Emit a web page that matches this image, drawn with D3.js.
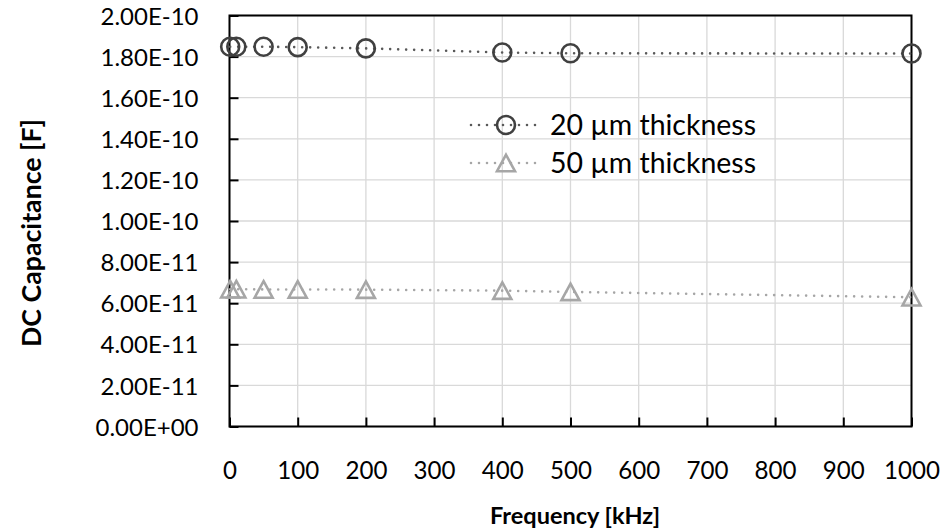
<!DOCTYPE html>
<html>
<head>
<meta charset="utf-8">
<script src="https://cdn.jsdelivr.net/npm/d3@7"></script>
<style>
  html, body { margin: 0; padding: 0; background: #fff; }
  svg { display: block; font-family: "Lato", "Open Sans", sans-serif; }
</style>
</head>
<body>
<svg id="chart" width="947" height="530"></svg>
<script>
// Frequency sweep (kHz) and measured DC capacitance (F) for two film thicknesses
const frequencies = [1, 10, 50, 100, 200, 400, 500, 1000];
const cap20um = [1.848e-10, 1.848e-10, 1.848e-10, 1.846e-10, 1.840e-10, 1.820e-10, 1.816e-10, 1.815e-10];
const cap50um = [6.68e-11, 6.68e-11, 6.67e-11, 6.67e-11, 6.66e-11, 6.61e-11, 6.55e-11, 6.29e-11];
const seriesNames = ["20 µm thickness", "50 µm thickness"];
const xTicks = [0, 100, 200, 300, 400, 500, 600, 700, 800, 900, 1000];
const yTicks = [0, 2e-11, 4e-11, 6e-11, 8e-11, 1e-10, 1.2e-10, 1.4e-10, 1.6e-10, 1.8e-10, 2e-10];
const xTitle = "Frequency [kHz]";
const yTitle = "DC Capacitance [F]";

const svg = d3.select("#chart");
const W = 947, H = 530;
const margin = { left: 229.5, right: W - 911.5, top: 15.5, bottom: H - 426.5 };

const x = d3.scaleLinear().domain([0, 1000]).range([margin.left, W - margin.right]);
const y = d3.scaleLinear().domain([0, 2e-10]).range([H - margin.bottom, margin.top]);

// Excel-style scientific notation, e.g. 1.80E-10
function sci(v) {
  const s = v.toExponential(2).toUpperCase();
  const [m, e] = s.split("E");
  return m + "E" + e[0] + e.slice(1).padStart(2, "0");
}

// scale a text selection's font so that a reference string spans the given width
function fitFont(sel, sample, width) {
  const probe = svg.append("text").style("font-size", "100px").text(sample);
  sel.each(function () {
    probe.style("font-weight", d3.select(this).style("font-weight"));
  });
  const len = probe.node().getComputedTextLength();
  probe.remove();
  sel.style("font-size", (100 * width / len).toFixed(2) + "px");
}

// gridlines
const grid = svg.append("g").attr("stroke", "#d9d9d9").attr("stroke-width", 1.3);
grid.selectAll("line.v").data(xTicks).join("line")
  .attr("x1", d => x(d)).attr("x2", d => x(d))
  .attr("y1", y(0)).attr("y2", y(2e-10));
grid.selectAll("line.h").data(yTicks).join("line")
  .attr("x1", x(0)).attr("x2", x(1000))
  .attr("y1", d => y(d)).attr("y2", d => y(d));

// axes with inward ticks
const xAxis = svg.append("g").attr("transform", `translate(0,${y(0)})`)
  .call(d3.axisBottom(x).tickValues(xTicks).tickSizeInner(-9).tickSizeOuter(0).tickFormat(d3.format("d")));
const yAxis = svg.append("g").attr("transform", `translate(${x(0)},0)`)
  .call(d3.axisLeft(y).tickValues(yTicks).tickSizeInner(-9).tickSizeOuter(0).tickPadding(31).tickFormat(sci));
[xAxis, yAxis].forEach(a => {
  a.select(".domain").remove();
  a.selectAll(".tick line").attr("stroke", "#000").attr("stroke-width", 2);
  a.selectAll(".tick text").attr("fill", "#000").style("font-family", "Lato, 'Open Sans', sans-serif");
});
xAxis.selectAll(".tick text").attr("y", 44).attr("dy", "0.36em");
yAxis.selectAll(".tick text").attr("dy", "0.36em");
fitFont(yAxis.selectAll(".tick text"), "1.80E-10", 98);
fitFont(xAxis.selectAll(".tick text"), "800", 42);

// plot frame
svg.append("rect")
  .attr("x", x(0)).attr("y", y(2e-10))
  .attr("width", x(1000) - x(0)).attr("height", y(0) - y(2e-10))
  .attr("fill", "none").attr("stroke", "#000").attr("stroke-width", 2);

// series
const series = [
  { name: seriesNames[0], values: cap20um, line: "#595959", mark: "#404040", shape: "circle" },
  { name: seriesNames[1], values: cap50um, line: "#a6a6a6", mark: "#a6a6a6", shape: "triangle" }
];

const line = d3.line().x(d => x(d[0])).y(d => y(d[1]));

function drawMarker(g, shape, color, cx, cy) {
  if (shape === "circle") {
    g.append("circle").attr("cx", cx).attr("cy", cy).attr("r", 9)
      .attr("fill", "none").attr("stroke", color).attr("stroke-width", 2.6);
  } else {
    const w = 18, h = 16.5;
    g.append("path")
      .attr("d", `M${cx},${cy - h / 2}L${cx + w / 2},${cy + h / 2}L${cx - w / 2},${cy + h / 2}Z`)
      .attr("fill", "none").attr("stroke", color).attr("stroke-width", 2.6)
      .attr("stroke-linejoin", "miter");
  }
}

series.forEach(s => {
  const pts = frequencies.map((f, i) => [f, s.values[i]]);
  svg.append("path").datum(pts).attr("d", line)
    .attr("fill", "none").attr("stroke", s.line).attr("stroke-width", 2.6)
    .attr("stroke-linecap", "round").attr("stroke-dasharray", "0 8");
  const g = svg.append("g");
  pts.forEach(p => drawMarker(g, s.shape, s.mark, x(p[0]), y(p[1])));
});

// legend
const legend = svg.append("g");
series.forEach((s, i) => {
  const cy = 125 + i * 38;
  legend.append("line").attr("x1", 471).attr("x2", 543).attr("y1", cy).attr("y2", cy)
    .attr("stroke", s.line).attr("stroke-width", 2.6)
    .attr("stroke-linecap", "round").attr("stroke-dasharray", "0 8");
  drawMarker(legend, s.shape, s.mark, 506, cy);
  legend.append("text").attr("x", 550).attr("y", cy).attr("dy", "0.36em")
    .attr("fill", "#000").text(s.name);
});
fitFont(legend.selectAll("text"), seriesNames[0], 206);

// axis titles
const xt = svg.append("text").attr("x", 575).attr("y", 516).attr("dy", "0.36em")
  .attr("text-anchor", "middle").style("font-weight", "bold").text(xTitle);
fitFont(xt, xTitle, 170);
const yt = svg.append("text").attr("transform", `translate(31,233) rotate(-90)`)
  .attr("dy", "0.36em").attr("text-anchor", "middle").style("font-weight", "bold").text(yTitle);
fitFont(yt, yTitle, 228);
</script>
</body>
</html>
